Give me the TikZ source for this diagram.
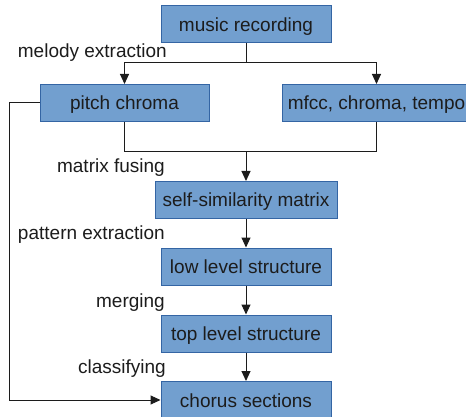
\documentclass[tikz,border=0pt]{standalone}
\usepackage{fontspec}
\setmainfont{Liberation Sans}
\usetikzlibrary{arrows.meta}
\definecolor{boxfill}{HTML}{729FCF}
\definecolor{boxdraw}{HTML}{3465A4}
\definecolor{ink}{HTML}{1C1C1C}
\begin{document}
\begin{tikzpicture}[x=1pt,y=-1pt,
  every node/.style={font=\fontsize{19}{22}\selectfont, text=ink},
  box/.style={draw=boxdraw, fill=boxfill, line width=1pt, minimum height=37pt,
    inner sep=0pt, text height=15pt, text depth=1pt},
  lbl/.style={anchor=base east, inner sep=0pt},
  conn/.style={draw=ink, line width=1pt},
  arr/.style={conn, -{Triangle[length=10pt,width=9pt]}}]
\useasboundingbox (0,0) rectangle (466,417);
\begin{scope}
\clip (0,0) rectangle (466,417);
\node[box, minimum width=170pt] (mr) at (246,24.5) {music recording};
\node[box, minimum width=169pt] (pc) at (124.5,103) {pitch chroma};
\node[box, minimum width=189pt] (mf) at (376.5,103) {mfcc, chroma, tempo};
\node[box, minimum width=182pt] (ss) at (246,200) {self-similarity matrix};
\node[box, minimum width=170pt] (ll) at (246,266.5) {low level structure};
\node[box, minimum width=170pt] (tl) at (246,333.5) {top level structure};
\node[box, minimum width=170pt] (cs) at (246,400) {chorus sections};
\end{scope}
\node[lbl] (l1) at (167,58) {melody extraction};
\node[lbl] (l2) at (165,173) {matrix fusing};
\node[lbl] (l3) at (165,239.5) {pattern extraction};
\node[lbl] (l4) at (165,307) {merging};
\node[lbl] (l5) at (166,373.5) {classifying};
\coordinate (j1) at (246,63);
\coordinate (j2) at (246,152);
\coordinate (fb) at (9,103);
\draw[conn] (mr.south) -- (j1);
\draw[arr] (j1) -| (pc.north);
\draw[arr] (j1) -| (mf.north);
\draw[conn] (pc.south) |- (j2);
\draw[conn] (mf.south) |- (j2);
\draw[arr] (j2) -- (ss.north);
\draw[arr] (ss.south) -- (ll.north);
\draw[arr] (ll.south) -- (tl.north);
\draw[arr] (tl.south) -- (cs.north);
\draw[arr] (pc.west) -- (fb) |- (cs.west);
\end{tikzpicture}
\end{document}
